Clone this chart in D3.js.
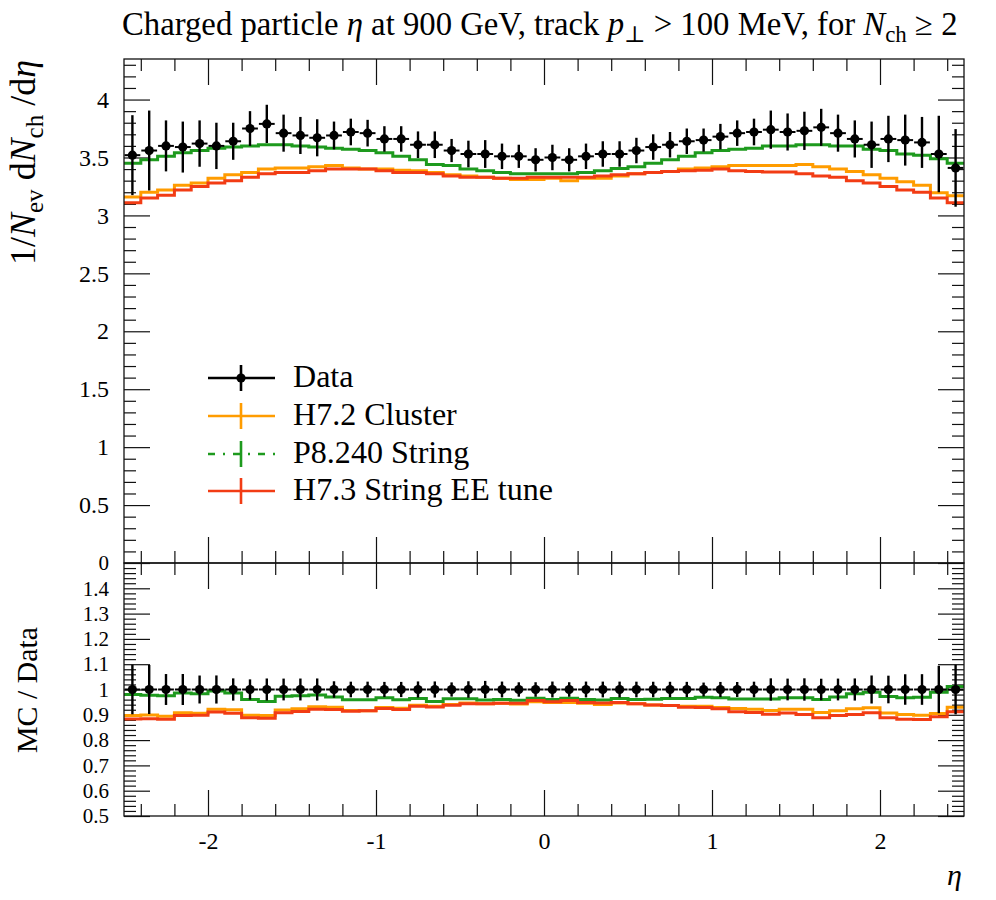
<!DOCTYPE html>
<html><head><meta charset="utf-8">
<script src="https://cdn.jsdelivr.net/npm/d3@7"></script>
<style>
body{margin:0;background:#fff}
svg{display:block}
text{font-family:"Liberation Serif","DejaVu Serif",serif;fill:#000}
</style>
</head><body>
<svg id="c" width="996" height="900"></svg>
<script>
// ---------------- data ----------------
const etaCenters = [-2.45,-2.35,-2.25,-2.15,-2.05,-1.95,-1.85,-1.75,-1.65,-1.55,
  -1.45,-1.35,-1.25,-1.15,-1.05,-0.95,-0.85,-0.75,-0.65,-0.55,
  -0.45,-0.35,-0.25,-0.15,-0.05,0.05,0.15,0.25,0.35,0.45,
  0.55,0.65,0.75,0.85,0.95,1.05,1.15,1.25,1.35,1.45,
  1.55,1.65,1.75,1.85,1.95,2.05,2.15,2.25,2.35,2.45];
const binHalfWidth = 0.05;

const dataValues = [3.52,3.56,3.60,3.59,3.62,3.60,3.64,3.75,3.79,3.71,
  3.69,3.67,3.69,3.72,3.71,3.66,3.66,3.61,3.61,3.56,
  3.53,3.53,3.51,3.51,3.48,3.50,3.48,3.51,3.53,3.53,
  3.56,3.59,3.61,3.64,3.65,3.68,3.71,3.72,3.74,3.72,
  3.73,3.76,3.71,3.66,3.61,3.66,3.65,3.63,3.53,3.41];
const dataErrors = [0.345,0.345,0.22,0.22,0.20,0.20,0.16,0.15,0.165,0.16,
  0.16,0.16,0.12,0.115,0.115,0.11,0.11,0.115,0.115,0.10,
  0.115,0.12,0.11,0.10,0.10,0.11,0.10,0.11,0.11,0.11,
  0.11,0.11,0.11,0.11,0.10,0.11,0.11,0.115,0.165,0.16,
  0.165,0.16,0.16,0.16,0.20,0.20,0.22,0.22,0.33,0.335];

const h72Cluster = [3.16,3.20,3.22,3.26,3.28,3.32,3.35,3.37,3.40,3.41,
  3.41,3.42,3.43,3.41,3.40,3.40,3.39,3.385,3.37,3.35,
  3.34,3.33,3.32,3.31,3.31,3.32,3.30,3.32,3.32,3.34,
  3.36,3.37,3.38,3.40,3.41,3.42,3.43,3.43,3.43,3.43,
  3.44,3.42,3.40,3.38,3.35,3.32,3.29,3.26,3.195,3.17];
const p8240String = [3.45,3.48,3.51,3.54,3.56,3.58,3.59,3.60,3.61,3.61,
  3.60,3.59,3.58,3.57,3.56,3.54,3.51,3.48,3.44,3.43,
  3.40,3.385,3.37,3.36,3.36,3.36,3.36,3.37,3.385,3.405,
  3.42,3.45,3.48,3.51,3.54,3.56,3.57,3.58,3.60,3.60,
  3.61,3.61,3.60,3.60,3.57,3.56,3.53,3.52,3.49,3.45];
const h73StringEE = [3.11,3.15,3.175,3.22,3.25,3.28,3.30,3.33,3.36,3.37,
  3.37,3.385,3.40,3.40,3.40,3.385,3.37,3.37,3.36,3.34,
  3.33,3.33,3.32,3.32,3.33,3.33,3.33,3.33,3.34,3.35,
  3.36,3.37,3.38,3.385,3.39,3.40,3.385,3.38,3.375,3.375,
  3.36,3.34,3.33,3.30,3.28,3.25,3.22,3.20,3.15,3.11];

const xTickValues = [-2,-1,0,1,2];
const mainYTicks = [0,0.5,1,1.5,2,2.5,3,3.5,4];
const ratioYTicks = [0.5,0.6,0.7,0.8,0.9,1.0,1.1,1.2,1.3,1.4];
const legendNames = ["Data","H7.2 Cluster","P8.240 String","H7.3 String EE tune"];

// ---------------- layout ----------------
const L = 124, R = 964, T = 59, M = 563, B = 816;
const colors = {h72:"#ff9c00", p8:"#1e9a1e", h73:"#f23c14"};
const TICKFS = 24, RATIOFS = 21;
const svg = d3.select("#c");

const x = d3.scaleLinear().domain([-2.5,2.5]).range([L,R]);
const y = d3.scaleLinear().domain([0,4.35]).range([M,T]);
const yr = d3.scaleLinear().domain([0.5,1.5]).range([B,M]);

const defs = svg.append("defs");
defs.append("clipPath").attr("id","clipMain").append("rect")
  .attr("x",L).attr("y",T).attr("width",R-L).attr("height",M-T);
defs.append("clipPath").attr("id","clipRatio").append("rect")
  .attr("x",L).attr("y",M).attr("width",R-L).attr("height",B-M);

function richText(sel, parts, fs){
  sel.selectAll("tspan").remove();
  let shift = 0;
  parts.forEach(p=>{
    const ts = sel.append("tspan").text(p.t);
    ts.attr("font-size", p.sub ? fs*0.7 : fs);
    if(p.it) ts.attr("font-style","italic");
    const target = p.sub ? fs*0.22 : 0;
    if(target !== shift){ ts.attr("dy", target-shift); shift = target; }
  });
}
function fitText(sel, parts, fs, target){
  richText(sel, parts, fs);
  const w = sel.node().getComputedTextLength();
  richText(sel, parts, fs*target/w);
}

// ---------------- ticks ----------------
const round = v => Math.round(v*1000)/1000;
const xMinor = d3.range(-24, 25, 2).map(v=>round(v/10)).filter(v=>Math.abs(v-Math.round(v))>1e-6);
const yMinor = d3.range(0, 44, 1).map(v=>round(v/10)).filter(v=>Math.abs(v*2-Math.round(v*2))>1e-6);
const yrMinor = d3.range(26, 75, 1).map(v=>round(v/50)).filter(v=>Math.abs(v*10-Math.round(v*10))>1e-6);

const MAJ = 26, MIN = 12;
function axisG(gen, tx, ty){
  const g = svg.append("g").attr("transform",`translate(${tx},${ty})`).call(gen);
  g.select(".domain").remove();
  g.selectAll(".tick line").attr("stroke","#111").attr("stroke-width",1.2);
  g.selectAll("text").attr("font-family",'"Liberation Serif","DejaVu Serif",serif').attr("fill","#000");
  return g;
}
const fmtX = d => d<0 ? "-"+(-d) : String(d);

// main panel
axisG(d3.axisTop(x).tickValues(xTickValues).tickSize(-MAJ).tickFormat(""),0,T);
axisG(d3.axisTop(x).tickValues(xMinor).tickSize(-MIN).tickFormat(""),0,T);
axisG(d3.axisBottom(x).tickValues(xTickValues).tickSize(-MAJ).tickFormat(""),0,M);
axisG(d3.axisBottom(x).tickValues(xMinor).tickSize(-MIN).tickFormat(""),0,M);
const ml = axisG(d3.axisLeft(y).tickValues(mainYTicks).tickSize(-MAJ).tickPadding(15).tickFormat(d3.format("~g")),L,0);
ml.selectAll("text").attr("font-size",TICKFS);
ml.selectAll(".tick").filter(d=>d===0).select("text").attr("font-size",RATIOFS);
axisG(d3.axisLeft(y).tickValues(yMinor).tickSize(-MIN).tickFormat(""),L,0);
axisG(d3.axisRight(y).tickValues(mainYTicks).tickSize(-MAJ).tickFormat(""),R,0);
axisG(d3.axisRight(y).tickValues(yMinor).tickSize(-MIN).tickFormat(""),R,0);

// ratio panel
axisG(d3.axisTop(x).tickValues(xTickValues).tickSize(-MAJ).tickFormat(""),0,M);
axisG(d3.axisTop(x).tickValues(xMinor).tickSize(-MIN).tickFormat(""),0,M);
const rb = axisG(d3.axisBottom(x).tickValues(xTickValues).tickSize(-MAJ).tickPadding(16).tickFormat(fmtX),0,B);
rb.selectAll("text").attr("font-size",TICKFS);
axisG(d3.axisBottom(x).tickValues(xMinor).tickSize(-MIN).tickFormat(""),0,B);
const rl = axisG(d3.axisLeft(yr).tickValues(ratioYTicks).tickSize(-MAJ).tickPadding(15).tickFormat(d3.format("~g")),L,0);
rl.selectAll("text").attr("font-size",RATIOFS);
axisG(d3.axisLeft(yr).tickValues(yrMinor).tickSize(-MIN).tickFormat(""),L,0);
axisG(d3.axisRight(yr).tickValues(ratioYTicks).tickSize(-MAJ).tickFormat(""),R,0);
axisG(d3.axisRight(yr).tickValues(yrMinor).tickSize(-MIN).tickFormat(""),R,0);

// ---------------- histograms ----------------
function stepPath(vals, ys){
  const pts = [];
  etaCenters.forEach((c,i)=>{
    pts.push([x(c-binHalfWidth), ys(vals[i])]);
    pts.push([x(c+binHalfWidth), ys(vals[i])]);
  });
  return d3.line()(pts);
}
const mcSeries = [
  {vals:h72Cluster, color:colors.h72},
  {vals:p8240String, color:colors.p8},
  {vals:h73StringEE, color:colors.h73}
];
const gMain = svg.append("g").attr("clip-path","url(#clipMain)");
const gRatio = svg.append("g").attr("clip-path","url(#clipRatio)");
mcSeries.forEach(s=>{
  gMain.append("path").attr("d",stepPath(s.vals,y)).attr("fill","none")
    .attr("stroke",s.color).attr("stroke-width",3);
  const ratio = s.vals.map((v,i)=>v/dataValues[i]);
  gRatio.append("path").attr("d",stepPath(ratio,yr)).attr("fill","none")
    .attr("stroke",s.color).attr("stroke-width",3);
});

// ---------------- data points ----------------
function drawData(g, vals, errs, ys){
  etaCenters.forEach((c,i)=>{
    const cx = x(c), cy = ys(vals[i]);
    g.append("line").attr("x1",x(c-binHalfWidth)+0.5).attr("x2",x(c+binHalfWidth)-0.5)
      .attr("y1",cy).attr("y2",cy).attr("stroke","#000").attr("stroke-width",2);
    g.append("line").attr("x1",cx).attr("x2",cx)
      .attr("y1",ys(vals[i]-errs[i])).attr("y2",ys(vals[i]+errs[i]))
      .attr("stroke","#000").attr("stroke-width",2.4);
    g.append("circle").attr("cx",cx).attr("cy",cy).attr("r",4.6).attr("fill","#000");
  });
}
drawData(gMain, dataValues, dataErrors, y);
drawData(gRatio, dataValues.map(()=>1), dataErrors.map((e,i)=>e/dataValues[i]), yr);

// ---------------- frames ----------------
svg.append("rect").attr("x",L).attr("y",T).attr("width",R-L).attr("height",M-T)
  .attr("fill","none").attr("stroke","#111").attr("stroke-width",1.3);
svg.append("rect").attr("x",L).attr("y",M).attr("width",R-L).attr("height",B-M)
  .attr("fill","none").attr("stroke","#111").attr("stroke-width",1.3);

// ---------------- legend ----------------
const legY = [378, 416, 454, 491];
const legStyles = [
  {color:"#000", dash:null, dot:true},
  {color:colors.h72, dash:null},
  {color:colors.p8, dash:"7,8,2,8"},
  {color:colors.h73, dash:null}
];
const legG = svg.append("g");
legendNames.forEach((name,i)=>{
  const st = legStyles[i], yy = legY[i];
  const ln = legG.append("line").attr("x1",208).attr("x2",275).attr("y1",yy).attr("y2",yy)
    .attr("stroke",st.color).attr("stroke-width",2.6);
  if(st.dash) ln.attr("stroke-dasharray",st.dash);
  legG.append("line").attr("x1",241).attr("x2",241).attr("y1",yy-13).attr("y2",yy+13)
    .attr("stroke",st.color).attr("stroke-width",2.6);
  if(st.dot) legG.append("circle").attr("cx",241).attr("cy",yy).attr("r",4.6).attr("fill","#000");
});
const legTexts = legendNames.map((name,i)=>
  legG.append("text").attr("x",293).attr("y",legY[i]+8.5));
fitText(legTexts[3], [{t:legendNames[3]}], 24, 260);
const legFs = +legTexts[3].select("tspan").attr("font-size");
legTexts.forEach((t,i)=>richText(t,[{t:legendNames[i]}],legFs));

// ---------------- titles / labels ----------------
const title = svg.append("text").attr("x",122).attr("y",35);
fitText(title, [
  {t:"Charged particle "},{t:"η",it:true},{t:" at 900 GeV, track "},
  {t:"p",it:true},{t:"⊥",sub:true},{t:" > 100 MeV, for "},
  {t:"N",it:true},{t:"ch",sub:true},{t:" ≥ 2"}], 26, 836);

const ylab = svg.append("text").attr("text-anchor","end")
  .attr("transform","translate(35,60) rotate(-90)");
fitText(ylab, [{t:"1/"},{t:"N",it:true},{t:"ev",sub:true},{t:" d"},{t:"N",it:true},
  {t:"ch",sub:true},{t:" /d"},{t:"η",it:true}], 26, 205);

const rlab = svg.append("text").attr("text-anchor","middle")
  .attr("transform","translate(37,690) rotate(-90)");
fitText(rlab, [{t:"MC / Data"}], 26, 126);

svg.append("text").attr("x",962).attr("y",885).attr("text-anchor","end")
  .attr("font-style","italic").attr("font-size",30).text("η");
</script>
</body></html>
